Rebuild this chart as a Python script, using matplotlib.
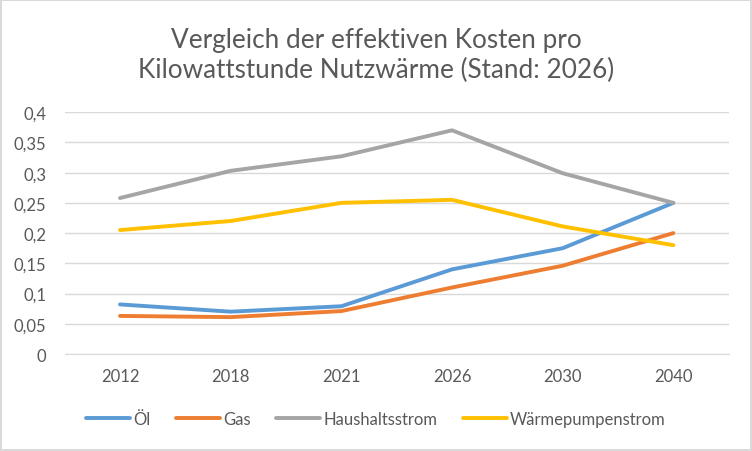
import matplotlib
matplotlib.use("Agg")
import matplotlib.pyplot as plt
from matplotlib.ticker import FuncFormatter

years = ["2012", "2018", "2021", "2026", "2030", "2040"]
oel = [0.082, 0.070, 0.079, 0.140, 0.175, 0.250]
gas = [0.063, 0.061, 0.071, 0.110, 0.146, 0.200]
haushaltsstrom = [0.258, 0.303, 0.327, 0.370, 0.299, 0.250]
waermepumpenstrom = [0.205, 0.220, 0.250, 0.255, 0.211, 0.180]

series = [
    ("Öl", oel, "#5B9BD5"),
    ("Gas", gas, "#ED7D31"),
    ("Haushaltsstrom", haushaltsstrom, "#A5A5A5"),
    ("Wärmepumpenstrom", waermepumpenstrom, "#FFC000"),
]

plt.rcParams["font.family"] = ["Lato", "DejaVu Sans"]

fig = plt.figure(figsize=(7.52, 4.52), dpi=100)
fig.patch.set_edgecolor("#D9D9D9")
fig.patch.set_linewidth(1.5)
ax = fig.add_axes([0.086, 0.2146, 0.883, 0.535])

x = range(len(years))
for name, vals, color in series:
    ax.plot(x, vals, color=color, lw=2.8, label=name,
            solid_capstyle="round", solid_joinstyle="round")

ax.set_xlim(-0.5, len(years) - 0.5)
ax.set_ylim(0, 0.4)
ax.set_yticks([i * 0.05 for i in range(9)])
ax.yaxis.set_major_formatter(FuncFormatter(lambda v, p: f"{v:.2f}".rstrip("0").rstrip(".").replace(".", ",")))
ax.set_xticks(list(x))
ax.set_xticklabels(years)
ax.grid(axis="y", color="#D9D9D9", lw=1)
ax.set_axisbelow(True)
for s in ["top", "right", "left"]:
    ax.spines[s].set_visible(False)
ax.spines["bottom"].set_color("#D9D9D9")
ax.tick_params(length=0, labelsize=12, colors="#595959", pad=10)
ax.tick_params(axis="y", pad=13)

fig.text(0.5, 0.877, "Vergleich der effektiven Kosten pro\nKilowattstunde Nutzwärme (Stand: 2026)",
         ha="center", va="center", fontsize=18.8, color="#595959", linespacing=1.25)

fig.legend(loc="center", bbox_to_anchor=(0.5, 0.071), ncol=4, frameon=False,
           fontsize=12, handlelength=2.65, columnspacing=1.5, handletextpad=0.2,
           labelcolor="#595959")

fig.savefig("out.png", dpi=100)
